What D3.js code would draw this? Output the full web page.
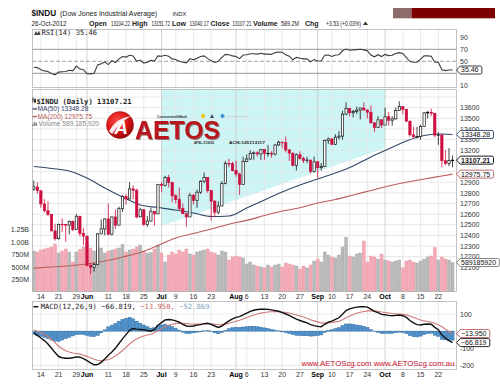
<!DOCTYPE html>
<html><head><meta charset="utf-8">
<script src="https://cdn.jsdelivr.net/npm/d3@7/dist/d3.min.js"></script>
<style>
body{margin:0;background:#fff;}
svg{display:block;}
text{font-family:"Liberation Sans",Arial,Helvetica,sans-serif;}
.mono{font-family:"DejaVu Sans Mono","Liberation Mono",monospace;}
</style></head><body>
<svg id="chart" width="500" height="388"></svg>
<script>
// ---------------- DATA ----------------
const dates = ["05-10","05-11","05-14","05-15","05-16","05-17","05-18","05-21","05-22","05-23","05-24","05-25","05-29","05-30","05-31",
"06-01","06-04","06-05","06-06","06-07","06-08","06-11","06-12","06-13","06-14","06-15","06-18","06-19","06-20","06-21","06-22","06-25","06-26","06-27","06-28","06-29",
"07-02","07-03","07-05","07-06","07-09","07-10","07-11","07-12","07-13","07-16","07-17","07-18","07-19","07-20","07-23","07-24","07-25","07-26","07-27","07-30","07-31",
"08-01","08-02","08-03","08-06","08-07","08-08","08-09","08-10","08-13","08-14","08-15","08-16","08-17","08-20","08-21","08-22","08-23","08-24","08-27","08-28","08-29","08-30","08-31",
"09-04","09-05","09-06","09-07","09-10","09-11","09-12","09-13","09-14","09-17","09-18","09-19","09-20","09-21","09-24","09-25","09-26","09-27","09-28",
"10-01","10-02","10-03","10-04","10-05","10-08","10-09","10-10","10-11","10-12","10-15","10-16","10-17","10-18","10-19","10-22","10-23","10-24","10-25","10-26"];

const open = [12835,12855,12820,12695,12632,12598,12442,12369,12504,12502,12497,12530,12454,12580,12419,
12393,12118,12101,12127,12414,12461,12554,12411,12573,12496,12651,12767,12742,12837,12824,12574,12641,12503,12535,12627,12602,
12880,12871,12943,12897,12772,12736,12653,12604,12573,12777,12727,12806,12909,12943,12823,12722,12618,12676,12888,13076,13074,
13009,12976,12879,13096,13118,13169,13176,13165,13208,13170,13172,13164,13250,13276,13271,13203,13173,13057,13158,13124,13103,13108,13000,
13091,13036,13048,13292,13307,13254,13323,13333,13540,13593,13553,13565,13577,13597,13579,13558,13458,13413,13486,
13437,13515,13482,13495,13575,13610,13583,13473,13345,13326,13328,13424,13551,13557,13548,13343,13345,13102,13077,13104.22];

const high = [12915,12900,12820,12740,12720,12600,12510,12510,12560,12505,12540,12540,12600,12580,12470,
12393,12140,12140,12420,12550,12560,12700,12580,12640,12670,12780,12790,12900,12870,12840,12660,12641,12580,12660,12627,12880,
12900,12960,12970,12897,12790,12850,12700,12610,12800,12790,12830,12920,12990,12943,12823,12730,12720,12910,13100,13120,13090,
13100,12990,13140,13160,13200,13190,13190,13210,13210,13250,13190,13260,13290,13280,13330,13210,13180,13170,13190,13140,13140,13108,13140,
13100,13080,13300,13320,13310,13350,13380,13570,13650,13595,13580,13610,13600,13650,13580,13620,13460,13520,13490,
13600,13560,13520,13600,13661,13610,13590,13480,13420,13420,13440,13560,13570,13590,13548,13370,13345,13200,13220,13151.72];

const low = [12820,12790,12660,12615,12580,12440,12350,12360,12430,12340,12410,12440,12454,12390,12310,
12107,12035,12060,12127,12414,12400,12400,12400,12460,12496,12620,12690,12742,12740,12560,12570,12490,12480,12530,12490,12602,
12810,12860,12850,12710,12700,12630,12600,12480,12573,12690,12660,12790,12890,12800,12540,12570,12600,12676,12880,13040,13000,
12950,12780,12879,13090,13110,13110,13140,13110,13110,13140,13130,13150,13240,13220,13180,13100,13050,13010,13110,13080,13080,12980,12990,
12940,13010,13048,13260,13250,13250,13300,13300,13530,13520,13510,13540,13490,13570,13500,13450,13370,13410,13410,
13437,13430,13430,13490,13570,13540,13470,13330,13320,13310,13300,13424,13500,13520,13320,13250,13040,13060,13050,13040.17];

const close = [12855,12821,12695,12632,12598,12442,12369,12504,12502,12497,12530,12454,12580,12419,12393,
12118,12101,12127,12414,12461,12554,12411,12573,12496,12651,12767,12742,12837,12824,12574,12641,12503,12535,12627,12602,12880,
12871,12943,12897,12772,12736,12653,12604,12573,12777,12727,12806,12909,12943,12823,12722,12618,12676,12888,13076,13074,13009,
12976,12879,13096,13118,13169,13176,13165,13208,13170,13172,13164,13250,13276,13271,13203,13173,13057,13158,13124,13103,13108,13000,13091,
13036,13048,13292,13307,13254,13323,13333,13540,13593,13553,13565,13577,13597,13579,13558,13458,13413,13486,13437,
13515,13482,13495,13575,13610,13583,13473,13345,13326,13328,13424,13551,13557,13548,13343,13345,13102,13077,13103.68,13107.21];

// volume in millions
const volume = [820,800,840,860,880,900,960,780,820,860,800,600,800,850,900,
980,880,820,860,880,780,820,840,860,880,950,800,840,860,900,940,820,780,790,860,940,
780,600,740,800,760,840,800,860,760,740,800,820,840,860,800,780,740,820,800,640,700,
720,700,680,560,600,540,520,500,480,540,500,540,560,500,580,560,540,520,460,520,480,540,620,
660,600,800,740,700,680,740,900,1090,720,700,760,780,1020,600,720,700,660,760,
640,620,600,620,640,480,620,640,600,580,620,660,700,720,890,640,700,660,640,589.18592];

const rsi = [40,39.5,36,34,33,29.5,27.5,32,32.5,33,35,34,42,37,36,
29.5,29,30,44,46,49,44.5,51,48,54,58,57,60,59,50,52,47,48.5,51.5,50.5,59,
58.5,60,58.5,54,53,50,48.5,47.5,54.5,52.5,55,58,59,54.5,51,48,50,56.5,61.5,61,59,
58,54.5,60.5,61,62.5,62.5,62,63.5,62,62,61.5,64.5,65.5,65,61,58.5,52.5,56.5,55,54,54,49,53,
50.5,51,60,60.5,58,60.5,61,67.5,70.5,68.5,69,69.5,70,69,67.5,60.5,57.5,61,58,
61.5,59.5,60,63,64.5,63,56,49.5,48.5,48.5,53.5,59,59,58.5,48.5,48.5,36,34.5,35.5,35.46];

const macd = [-10,-25,-40,-55,-75,-100,-125,-148,-155,-158,-158,-155,-150,-152,-160,
-172,-185,-196,-195,-182,-162,-140,-122,-100,-72,-45,-20,5,15,12,10,8,4,0,10,35,
50,65,68,66,60,52,40,30,28,30,35,38,44,46,40,30,22,30,45,60,72,
80,85,95,105,115,122,126,128,128,127,124,120,116,108,100,92,80,70,62,55,48,38,32,
28,26,40,52,58,68,78,98,120,130,136,140,142,143,140,128,115,108,98,
96,92,90,92,94,90,80,62,48,38,36,40,42,40,22,8,-22,-40,-55,-66.819];

const signal = [7,-1,-10,-19,-31,-48,-67,-88,-103,-114,-122,-127,-130,-134,-140,
-147,-155,-164,-170,-172,-170,-165,-157,-145,-130,-113,-95,-75,-57,-46,-36,-28,-22,-18,-10,3,
14,25,34,40,44,46,46,44,42,40,41,42,42,43,43,40,37,38,41,46,52,
58,63,71,79,87,94,100,105,109,112,113,114,114,112,109,106,100,94,88,82,75,67,60,
54,48,47,48,50,54,58,66,78,88,96,104,110,115,118,119,118,116,112,
109,106,103,101,100,98,95,88,80,72,65,60,56,52,46,38,26,11,-2,-13.950];

const maDates = ["05-10","05-17","05-24","06-01","06-08","06-15","06-22","06-29","07-09","07-16","07-23","07-30","08-06","08-13","08-20","08-27","09-04","09-11","09-18","09-25","10-02","10-09","10-16","10-23","10-26"];
const ma50  = [13047,13029,13005,12939,12845,12761,12686,12662,12638,12610,12577,12582,12657,12733,12808,12874,12930,12986,13052,13137,13212,13287,13339,13353,13348.28];
const ma200 = [12092,12103,12115,12131,12159,12197,12239,12305,12375,12417,12460,12505,12541,12587,12629,12660,12704,12737,12780,12822,12864,12899,12930,12958,12975.75];

const tickDates  = ["05-14","05-21","05-29","06-01","06-11","06-18","06-25","07-02","07-09","07-16","07-23","08-01","08-06","08-13","08-20","08-27","09-04","09-10","09-17","09-24","10-01","10-08","10-15","10-22"];
const tickLabels = ["14","21","29","Jun","11","18","25","Jul","9","16","23","Aug","6","13","20","27","Sep","10","17","24","Oct","8","15","22"];
const monthTick  = tickLabels.map(t => /[A-Za-z]/.test(t));

const priceTicks = [12100,12200,12300,12400,12500,12600,12700,12800,12900,13000,13100,13200,13300,13400,13500,13600];
const priceGrid  = [11900,12000,12100,12200,12300,12400,12500,12600,12700,12800,12900,13000,13100,13200,13300,13400,13500,13600,13700];
const volTicks   = [250,500,750,1000,1250];
const volLabels  = ["250M","500M","750M","1.00B","1.25B"];
const rsiTicks   = [90,70,50,30,10];
const macdTicks  = [100,0,-100,-200];
// shaded channel (dates, bottom edge prices)
const channelDates  = ["07-02","10-01"];
const channelBottom = [12488,13221];

// ---------------- CHART ----------------
const svg = d3.select("#chart");
const defs = svg.append("defs");
const L = 32, R = 457;
const P = {rsi:{t:29,b:88}, main:{t:89,b:292}, macd:{t:301,b:370}};
const x = d3.scaleBand().domain(dates).range([32, 454.3]);
const bw = x.bandwidth();
const cx = d => x(d) + bw/2;
const yR = d3.scaleLinear().domain([30,70]).range([73.3,49.3]);
const yP = d3.scaleLinear().domain([12100,13600]).range([267.3,107.7]);
const yV = d3.scaleLinear().domain([0,1250]).range([292,229.5]);
const yM = d3.scaleLinear().domain([-100,100]).range([348.3,314]);
const N = dates.length;
const last = N-1;
const RED = "#cc1040";
const f2 = d3.format(".2f"), f3 = d3.format(".3f");

Object.entries(P).forEach(([k,p]) => {
  defs.append("clipPath").attr("id","clip-"+k).append("rect")
    .attr("x",L).attr("y",p.t).attr("width",R-L).attr("height",p.b-p.t);
});
const lg = defs.append("radialGradient").attr("id","logoG").attr("cx","40%").attr("cy","35%").attr("r","70%");
lg.append("stop").attr("offset","0%").attr("stop-color","#ff4a4a");
lg.append("stop").attr("offset","60%").attr("stop-color","#d41414");
lg.append("stop").attr("offset","100%").attr("stop-color","#8a0808");
const sh = defs.append("filter").attr("id","shadow").attr("x","-10%").attr("y","-10%").attr("width","130%").attr("height","130%");
sh.append("feDropShadow").attr("dx",1).attr("dy",1).attr("stdDeviation",0.6).attr("flood-color","#4a0606").attr("flood-opacity",0.5);

function panel(key){
  const p = P[key];
  svg.append("rect").attr("x",L).attr("y",p.t).attr("width",R-L).attr("height",p.b-p.t).attr("fill","#fff");
  return svg.append("g").attr("clip-path",`url(#clip-${key})`);
}
function vgrid(g, p){
  g.append("g").selectAll("line").data(tickDates).join("line")
    .attr("x1",d=>cx(d)).attr("x2",d=>cx(d)).attr("y1",p.t).attr("y2",p.b)
    .attr("stroke",(d,i)=>monthTick[i]?"#c6c6c6":"#e4e4e4").attr("stroke-width",0.8);
}
function border(p){
  svg.append("rect").attr("x",L+0.5).attr("y",p.t+0.5).attr("width",R-L-1).attr("height",p.b-p.t-1)
    .attr("fill","none").attr("stroke","#b4b4b4").attr("stroke-width",0.8);
}
// right axis; labels fully hidden behind a value tag are left out (as in the reference)
function rightAxis(scale, ticks, tagYs){
  const shown = ticks.filter(t => (tagYs||[]).every(ty => Math.abs(scale(t)-ty) >= 3.6));
  const a = svg.append("g").attr("transform",`translate(${R},0)`)
    .call(d3.axisRight(scale).tickValues(shown).tickSize(0).tickPadding(3).tickFormat(d => String(d)));
  a.select(".domain").remove();
  a.selectAll("text").attr("fill","#333").style("font-size","7px").style("font-family","'Liberation Sans',Arial,sans-serif");
  return a;
}
function tag(y, txt, stroke, bold){
  const g = svg.append("g");
  const t = g.append("text").attr("x",461).attr("y",y).attr("dy","0.35em")
    .style("font-size","7px").style("font-weight",bold?"bold":"normal").attr("fill","#111").text(txt);
  const w = t.node().getComputedTextLength();
  const x0 = 456.5, x1 = 461 + w + 1.8, h = 4;
  g.insert("path","text").attr("d",`M${x0},${y} L${x0+3.8},${y-h} L${x1},${y-h} Q${x1+1.5},${y-h} ${x1+1.5},${y-h+1.5} L${x1+1.5},${y+h-1.5} Q${x1+1.5},${y+h} ${x1},${y+h} L${x0+3.8},${y+h} Z`)
    .attr("fill","#fff").attr("stroke",stroke).attr("stroke-width",0.9);
}
function xLabels(y){
  const a = svg.append("g").attr("transform",`translate(0,${y})`)
    .call(d3.axisBottom(x).tickValues(tickDates).tickSize(0).tickPadding(2).tickFormat((d,i)=>tickLabels[i]));
  a.select(".domain").remove();
  a.selectAll("text").style("font-size","7px").style("font-family","'Liberation Sans',Arial,sans-serif")
    .attr("fill",(d,i)=>monthTick[i]?"#000":"#333").style("font-weight",(d,i)=>monthTick[i]?"bold":"normal");
}

// ---------- header ----------
svg.append("text").attr("x",31.5).attr("y",15.8).style("font-size","8.2px").style("font-weight","bold").attr("fill","#111").text("$INDU");
svg.append("text").attr("x",60).attr("y",15.8).style("font-size","7px").attr("fill","#222").text("(Dow Jones Industrial Average)");
svg.append("text").attr("x",172.5).attr("y",15.8).style("font-size","5.8px").attr("fill","#222").text("INDX");
const hdr = [
  ["26-Oct-2012",31.5,false,38],["Open",89,true,0],[f2(open[last]),111,false,19],["High",132,true,0],[f2(high[last]),151.5,false,18.5],
  ["Low",172,true,0],[f2(low[last]),189.5,false,19.5],["Close",210.5,true,0],[f2(close[last]),232.5,false,19],["Volume",253,true,0],
  [d3.format(".1f")(volume[last])+"M",281,false,18],["Chg",305,true,0],
  ["+"+f2(close[last]-close[last-1])+" (+"+f2((close[last]-close[last-1])/close[last-1]*100)+"%)",326,false,35]
];
hdr.forEach(([t,xx,b,w]) => {
  const e = svg.append("text").attr("x",0).attr("y",0).style("font-size",b?"7px":"6.3px")
    .style("font-weight",b?"bold":"normal").attr("fill","#222").text(t);
  let sx = 1;
  if (w) { const nat = e.node().getComputedTextLength(); sx = Math.min(1, w / nat); }
  e.attr("transform",`translate(${xx},25.7) scale(${sx},1)`);
});
svg.append("path").attr("d","M363,25 L365.5,21.5 L368,25 Z").attr("fill","#333");
svg.append("rect").attr("x",393).attr("y",8).attr("width",18.5).attr("height",10.3).attr("fill","#8e6c6c");
svg.append("rect").attr("x",411.5).attr("y",8).attr("width",83.5).attr("height",10.3).attr("fill","#7c0000");

// ---------- RSI panel ----------
{
  const p = P.rsi, g = panel("rsi");
  vgrid(g,p);
  [70,30].forEach(v => g.append("line").attr("x1",L).attr("x2",R).attr("y1",yR(v)).attr("y2",yR(v)).attr("stroke","#8c8c8c").attr("stroke-width",0.9));
  g.append("line").attr("x1",L).attr("x2",R).attr("y1",yR(50)).attr("y2",yR(50)).attr("stroke","#8c8c8c").attr("stroke-width",0.8).attr("stroke-dasharray","4,2");
  g.append("path").datum(rsi).attr("fill","none").attr("stroke","#3c3c3c").attr("stroke-width",1.1)
    .attr("d",d3.line().x((d,i)=>cx(dates[i])).y(d=>yR(d)));
  border(p);
  rightAxis(yR, rsiTicks, [yR(rsi[last])]);
  tag(yR(rsi[last]), f2(rsi[last]), "#222", false);
  svg.append("path").attr("d","M34,35 L36,31 L37.5,33.5 L39,30.5 L40.5,35 Z").attr("fill","#444");
  svg.append("text").attr("class","mono").attr("x",41.5).attr("y",35).style("font-size","7.1px").attr("fill","#222")
    .text("RSI(14) " + f2(rsi[last]));
}

// ---------- Main panel ----------
{
  const p = P.main, g = panel("main");
  const ch = channelDates.map((d,i)=>({d, b:channelBottom[i]}));
  g.append("path").datum(ch).attr("fill","#cdf5f6")
    .attr("d", d3.area().x(d=>cx(d.d)).y0(d=>yP(d.b)).y1(p.t));
  g.append("g").selectAll("line").data(priceGrid).join("line")
    .attr("x1",L).attr("x2",R).attr("y1",d=>yP(d)).attr("y2",d=>yP(d)).attr("stroke","#e2e2e2").attr("stroke-width",0.8);
  vgrid(g,p);
  g.append("g").selectAll("rect").data(volume).join("rect")
    .attr("x",(d,i)=>x(dates[i])+0.3).attr("width",bw-0.6)
    .attr("y",d=>yV(d)).attr("height",d=>yV(0)-yV(d))
    .attr("fill",(d,i)=> (i===0 ? close[i]>=open[i] : close[i]>=close[i-1]) ? "#b9b9b9" : "#f4a9b7")
    .attr("stroke",(d,i)=> (i===0 ? close[i]>=open[i] : close[i]>=close[i-1]) ? "#a4a4a4" : "#e8909f")
    .attr("stroke-width",0.4);
  const maLine = d3.line().curve(d3.curveMonotoneX).x((d,i)=>cx(maDates[i])).y(d=>yP(d));
  g.append("path").datum(ma200).attr("fill","none").attr("stroke","#b95c5c").attr("stroke-width",1.1).attr("d",maLine);
  g.append("path").datum(ma50).attr("fill","none").attr("stroke","#34466a").attr("stroke-width",1.1).attr("d",maLine);
  const cg = g.append("g");
  dates.forEach((d,i) => {
    const upDay = i===0 ? close[i]>=open[i] : close[i]>=close[i-1];
    const col = upDay ? "#111" : RED;
    const hollow = close[i] >= open[i];
    const xc = cx(d);
    cg.append("line").attr("x1",xc).attr("x2",xc).attr("y1",yP(high[i])).attr("y2",yP(low[i])).attr("stroke",col).attr("stroke-width",0.8);
    const yt = yP(Math.max(open[i],close[i])), yb = yP(Math.min(open[i],close[i]));
    cg.append("rect").attr("x",xc-1.15).attr("width",2.3).attr("y",yt).attr("height",Math.max(0.6,yb-yt))
      .attr("fill",hollow?"#fff":col).attr("stroke",col).attr("stroke-width",0.7);
  });
  border(p);
  const tagY = {
    vol: yV(volume[last]), ma200: yP(ma200[ma200.length-1]), ma50: yP(ma50[ma50.length-1]), px: yP(close[last])
  };
  rightAxis(yP, priceTicks, Object.values(tagY));
  const va = svg.append("g").attr("transform",`translate(${L},0)`)
    .call(d3.axisLeft(yV).tickValues(volTicks).tickSize(0).tickPadding(3).tickFormat((d,i)=>volLabels[i]));
  va.select(".domain").remove();
  va.selectAll("text").attr("fill","#333").style("font-size","7px").style("font-family","'Liberation Sans',Arial,sans-serif");

  // legend
  svg.append("path").attr("d","M32.5,99 h1 M33,97.5 v5 M35,98.5 v4.5 M34.5,99.5 h1 v2.5 h-1 Z").attr("stroke","#222").attr("stroke-width",0.8).attr("fill","#222");
  svg.append("text").attr("class","mono").attr("x",36.5).attr("y",103.5).style("font-size","7.2px").style("font-weight","bold").attr("fill","#222")
    .text("$INDU (Daily) " + f2(close[last]));
  svg.append("line").attr("x1",32.5).attr("x2",37).attr("y1",109).attr("y2",109).attr("stroke","#34466a").attr("stroke-width",1.3);
  svg.append("text").attr("x",37.5).attr("y",111.3).style("font-size","6.6px").attr("fill","#34466a").text("MA(50) " + f2(ma50[ma50.length-1]));
  svg.append("line").attr("x1",32.5).attr("x2",37).attr("y1",116.5).attr("y2",116.5).attr("stroke","#b95c5c").attr("stroke-width",1.3);
  svg.append("text").attr("x",37.5).attr("y",118.7).style("font-size","6.6px").attr("fill","#b95c5c").text("MA(200) " + f2(ma200[ma200.length-1]));
  svg.append("path").attr("d","M32.5,126 v-2 h1 v2 M34.2,126 v-4 h1 v4 M35.9,126 v-3 h1 v3").attr("fill","#888").attr("stroke","#888").attr("stroke-width",0.5);
  svg.append("text").attr("x",38.5).attr("y",126).style("font-size","6.6px").attr("fill","#888").text("Volume " + d3.format(",")(Math.round(volume[last]*1e6)));

  // logo
  const lgG = svg.append("g");
  lgG.append("circle").attr("cx",120).attr("cy",125).attr("r",13.5).attr("fill","url(#logoG)").attr("stroke","#a00").attr("stroke-width",0.5);
  lgG.append("path").attr("d","M109,131 Q116,118 131,116 Q120,122 112,134 Z").attr("fill","#fff").attr("opacity",0.9);
  lgG.append("text").attr("x",121).attr("y",134).attr("text-anchor","middle").style("font-size","19px").style("font-weight","bold").style("font-style","italic").attr("fill","#fff").text("A");
  lgG.append("text").attr("x",135).attr("y",138.5).style("font-size","26px").style("font-weight","bold").attr("fill","#b8161c")
    .attr("filter","url(#shadow)").attr("textLength",85).attr("lengthAdjust","spacingAndGlyphs").text("AETOS");
  lgG.append("text").attr("x",157).attr("y",117.5).style("font-size","4px").style("font-weight","bold").attr("fill","#333")
    .attr("textLength",30).attr("lengthAdjust","spacingAndGlyphs").text("CommonwealthBank");
  lgG.append("path").attr("d","M203,113.5 L205.5,116 L203,118.5 L200.5,116 Z").attr("fill","#f2c200");
  lgG.append("path").attr("d","M210,118 L212,114 L214,118 Z").attr("fill","#3a4a6a");
  lgG.append("path").attr("d","M222.5,113.5 L225,116 L222.5,118.5 L220,116 Z").attr("fill","#3b8fd3");
  lgG.append("line").attr("x1",227).attr("x2",247).attr("y1",116.5).attr("y2",116.5).attr("stroke","#c8d4dc").attr("stroke-width",1.2);
  lgG.append("text").attr("x",194).attr("y",144.3).style("font-size","4.4px").style("font-weight","bold").attr("fill","#222")
    .attr("textLength",20).attr("lengthAdjust","spacingAndGlyphs").text("AFSL:313016");
  lgG.append("text").attr("x",229).attr("y",144.3).style("font-size","4.4px").style("font-weight","bold").attr("fill","#222")
    .attr("textLength",36).attr("lengthAdjust","spacingAndGlyphs").text("ACN:125113117");

  // value tags
  tag(tagY.vol, String(Math.round(volume[last]*1e6)), "#777", false);
  tag(tagY.ma200, f2(ma200[ma200.length-1]), "#b95c5c", false);
  tag(tagY.ma50, f2(ma50[ma50.length-1]), "#34466a", false);
  tag(tagY.px, f2(close[last]), "#000", true);
}
xLabels(P.main.b);

// ---------- MACD panel ----------
{
  const p = P.macd, g = panel("macd");
  vgrid(g,p);
  g.append("g").selectAll("line").data(macdTicks).join("line")
    .attr("x1",L).attr("x2",R).attr("y1",d=>yM(d)).attr("y2",d=>yM(d)).attr("stroke","#e4e4e4").attr("stroke-width",0.8);
  const hist = macd.map((m,i)=>m-signal[i]);
  g.append("g").selectAll("rect").data(hist).join("rect")
    .attr("x",(d,i)=>x(dates[i])+0.2).attr("width",bw-0.4)
    .attr("y",d=>Math.min(yM(d),yM(0))).attr("height",d=>Math.abs(yM(d)-yM(0)))
    .attr("fill","#4f93cf").attr("stroke","#2c6599").attr("stroke-width",0.45);
  const ln = d3.line().x((d,i)=>cx(dates[i])).y(d=>yM(d));
  g.append("path").datum(signal).attr("fill","none").attr("stroke","#cf7a7a").attr("stroke-width",1.1).attr("d",ln);
  g.append("path").datum(macd).attr("fill","none").attr("stroke","#111").attr("stroke-width",1.4).attr("d",ln);
  svg.append("text").attr("x",301.5).attr("y",365.5).style("font-size","8px").attr("fill","#c8102e")
    .attr("textLength",153).attr("lengthAdjust","spacingAndGlyphs").text("www.AETOScg.com  www.AETOScg.com.au");
  border(p);
  rightAxis(yM, macdTicks, [yM(signal[last]), yM(macd[last])]);
  tag(yM(signal[last]), f3(signal[last]), "#c06060", false);
  tag(yM(macd[last]), f3(macd[last]), "#111", false);
  svg.append("line").attr("x1",33.3).attr("x2",38.3).attr("y1",306.7).attr("y2",306.7).attr("stroke","#111").attr("stroke-width",1.5);
  const t = svg.append("text").attr("class","mono").attr("x",40.7).attr("y",309).style("font-size","7.2px");
  t.append("tspan").attr("fill","#222").text("MACD(12,26,9) " + f3(macd[last]) + ", ");
  t.append("tspan").attr("fill","#c06060").text(f3(signal[last]) + ", ");
  t.append("tspan").attr("fill","#7fa3bb").text(f3(hist[last]));
}
xLabels(P.macd.b);
</script></body></html>
